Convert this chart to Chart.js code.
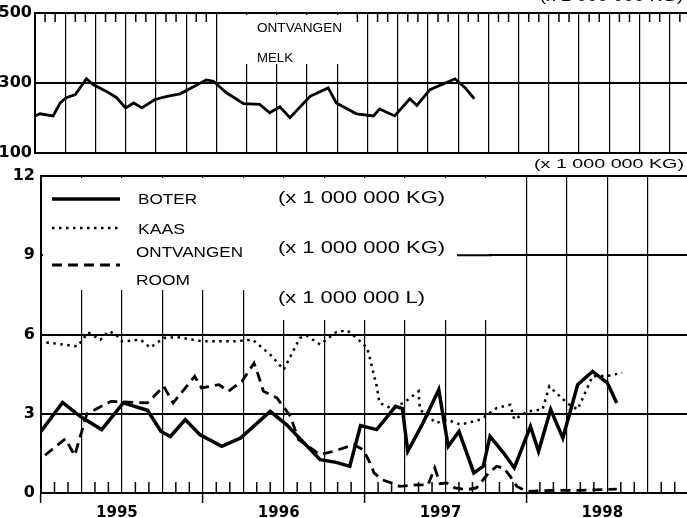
<!DOCTYPE html>
<html>
<head>
<meta charset="utf-8">
<script src="https://cdn.jsdelivr.net/npm/chart.js@4"></script>
<style>
  body { margin: 0; background: #fff; width: 687px; height: 518px; overflow: hidden; position: relative; }
  #melkBox { position: absolute; left: 0; top: 0; width: 700px; height: 175px; }
  #zuivelBox { position: absolute; left: 0; top: 155px; width: 700px; height: 363px; }
</style>
</head>
<body>
<div id="melkBox"><canvas id="melkChart"></canvas></div>
<div id="zuivelBox"><canvas id="zuivelChart"></canvas></div>
<script>
// months counted from january 1995 (0 = start of 1995)
const melkMonths = [0, 0.5, 1.8, 2.5, 3.1, 4.0, 5.1, 5.8, 7.1, 8.1, 9.0, 9.8, 10.6, 11.9, 13.1, 14.4, 15.5, 17.0, 17.7, 19.0,
  20.7, 22.3, 23.3, 24.3, 25.3, 27.3, 29.1, 29.9, 31.9, 33.6, 34.2, 35.7, 37.2, 37.9, 39.2, 41.7, 42.7, 43.6];
const melkValues = [206, 212, 206, 243, 258, 267, 312, 295, 276, 258, 229, 243, 229, 253, 262, 269, 286, 309, 305, 272,
  241, 239, 215, 232, 201, 262, 286, 243, 212, 206, 226, 206, 255, 236, 281, 312, 286, 255];

const boterMonths = [0, 1.6, 2.9, 4.5, 6.1, 7.9, 8.9, 9.6, 10.7, 11.8, 13.4, 14.8, 17.0, 18.2, 20.7, 21.9, 22.9, 23.7,
  24.9, 26.3, 26.8, 27.2, 28.2, 29.5, 30.2, 31.0, 32.1, 32.8, 33.3, 34.3, 35.1, 36.3, 36.9, 37.8, 38.7, 39.8, 40.9, 42.0, 42.7];
const boterValues = [2.33, 3.43, 2.9, 2.4, 3.41, 3.13, 2.33, 2.14, 2.78, 2.2, 1.77, 2.08, 3.09, 2.59, 1.26, 1.16, 1.01, 2.55,
  2.4, 3.28, 3.2, 1.58, 2.52, 3.91, 1.77, 2.33, 0.76, 1.01, 2.14, 1.52, 0.95, 2.52, 1.58, 3.16, 2.08, 4.1, 4.6, 4.17, 3.41];

const kaasMonths = [0.4, 2.7, 3.5, 4.4, 5.0, 5.5, 6.0, 7.4, 8.1, 9.1, 10.1, 12.0, 14.3, 15.7, 17.0, 18.0, 19.2, 19.7, 20.7,
  21.9, 22.7, 23.4, 24.2, 24.9, 25.1, 25.9, 26.9, 28.0, 28.1, 29.3, 30.1, 31.1, 32.6, 33.8, 34.8, 35.1, 36.1, 37.2, 37.7,
  39.0, 39.8, 40.9, 42.1, 43.1];
const kaasValues = [5.7, 5.55, 6.08, 5.8, 6.12, 6.03, 5.74, 5.8, 5.5, 5.87, 5.9, 5.74, 5.74, 5.8, 5.24, 4.67, 5.87, 5.96, 5.62,
  6.09, 6.16, 5.87, 5.49, 4.04, 3.41, 3.22, 3.41, 3.85, 3.16, 2.65, 2.78, 2.59, 2.78, 3.22, 3.34, 2.78, 3.09, 3.16, 4.04,
  3.41, 3.16, 4.42, 4.44, 4.55];

const roomMonths = [0.3, 1.8, 2.5, 3.4, 5.2, 7.9, 9.1, 9.8, 11.4, 11.9, 13.2, 13.9, 14.9, 15.8, 16.1, 16.5, 17.5, 18.5, 19.1,
  20.7, 21.7, 23.2, 23.9, 24.4, 24.7, 25.3, 26.0, 26.6, 27.9, 28.7, 29.2, 29.6, 30.1, 30.7, 31.6, 32.3, 33.2, 33.8, 34.3,
  34.8, 35.3, 36.0, 38.0, 40.0, 42.7];
const roomValues = [1.43, 2.05, 1.42, 3.0, 3.47, 3.41, 4.04, 3.41, 4.42, 3.98, 4.1, 3.85, 4.23, 4.92, 4.48, 3.85, 3.6, 2.9, 2.02,
  1.45, 1.58, 1.83, 1.64, 1.14, 0.76, 0.5, 0.38, 0.25, 0.31, 0.3, 0.95, 0.35, 0.38, 0.19, 0.13, 0.19, 0.76, 1.01, 0.95,
  0.63, 0.25, 0.06, 0.1, 0.1, 0.15];

const yearLabels = ['1995', '1996', '1997', '1998'];
const unitKg = '(x 1 000 000 KG)';
const unitL = '(x 1 000 000 L)';

const TEXT_FONT = '"Liberation Sans", Arial, sans-serif';
const AXIS_FONT = { family: '"DejaVu Sans", sans-serif', size: 16, weight: 'bold' };

function points(months, values) {
  return months.map((m, i) => ({ x: m, y: values[i] }));
}

// text squeezed/stretched to the width it has in the scan
function fitText(ctx, str, x, baseline, width, size) {
  ctx.save();
  ctx.font = size + 'px ' + TEXT_FONT;
  const w = ctx.measureText(str).width;
  ctx.translate(x, baseline);
  ctx.scale(width / w, 1);
  ctx.fillStyle = '#000';
  ctx.textBaseline = 'alphabetic';
  ctx.fillText(str, 0, 0);
  ctx.restore();
}

function monthTicks(chart, fromTop, len, skip) {
  const ctx = chart.ctx, x = chart.scales.x, a = chart.chartArea;
  ctx.save();
  ctx.strokeStyle = '#000';
  ctx.lineWidth = 1.5;
  for (let m = 1; m < x.max; m++) {
    if (m % 3 === 0) continue;
    const px = x.getPixelForValue(m);
    if (skip && px > skip[0] && px < skip[1]) continue;
    ctx.beginPath();
    if (fromTop) { ctx.moveTo(px, a.top); ctx.lineTo(px, a.top + len); }
    else { ctx.moveTo(px, a.bottom); ctx.lineTo(px, a.bottom - len); }
    ctx.stroke();
  }
  ctx.restore();
}

const melkDecor = {
  id: 'melkDecor',
  beforeDatasetsDraw(chart) {
    const ctx = chart.ctx;
    monthTicks(chart, true, 9, [222, 352]);
    ctx.save();
    ctx.fillStyle = '#fff';
    ctx.fillRect(225, chart.chartArea.top + 2, 125, 49);
    ctx.restore();
    fitText(ctx, 'ONTVANGEN', 257, 32, 85, 13);
    fitText(ctx, 'MELK', 257, 62, 36, 13);
    fitText(ctx, unitKg, 540, 1, 143, 13);
  }
};

const zuivelDecor = {
  id: 'zuivelDecor',
  beforeDatasetsDraw(chart) {
    const ctx = chart.ctx, y = chart.scales.y;
    const off = 155; // canvas top on the page
    monthTicks(chart, false, 11);
    ctx.save();
    ctx.fillStyle = '#fff';
    ctx.fillRect(43, 178 - off, 446, 112);
    ctx.fillRect(262, 290 - off, 227, 30);
    ctx.strokeStyle = '#000';
    ctx.lineWidth = 2;
    ctx.beginPath();
    ctx.moveTo(457, y.getPixelForValue(9));
    ctx.lineTo(492, y.getPixelForValue(9));
    ctx.stroke();

    // legend samples, same styles as the datasets
    const samples = [[0, 199], [1, 228], [2, 265]];
    samples.forEach(([i, py]) => {
      const ds = chart.data.datasets[i];
      ctx.beginPath();
      ctx.lineWidth = ds.borderWidth;
      ctx.setLineDash(ds.borderDash || []);
      ctx.moveTo(52, py - off);
      ctx.lineTo(120, py - off);
      ctx.stroke();
    });
    ctx.restore();

    fitText(ctx, unitKg, 534, 168 - off, 150, 12);
    fitText(ctx, 'BOTER', 138, 204 - off, 59, 15);
    fitText(ctx, 'KAAS', 138, 234 - off, 47, 15);
    fitText(ctx, 'ONTVANGEN', 136, 257 - off, 107, 15);
    fitText(ctx, 'ROOM', 136, 285 - off, 54, 15);
    fitText(ctx, unitKg, 278, 203 - off, 167, 16);
    fitText(ctx, unitKg, 278, 253 - off, 167, 16);
    fitText(ctx, unitL, 278, 303 - off, 147, 16);
  }
};

new Chart(document.getElementById('melkChart'), {
  type: 'line',
  data: {
    datasets: [{
      label: 'Ontvangen melk',
      data: points(melkMonths, melkValues),
      borderColor: '#000',
      borderWidth: 2.8,
      pointRadius: 0,
      tension: 0
    }]
  },
  options: {
    responsive: true,
    maintainAspectRatio: false,
    animation: false,
    layout: { padding: { top: 13, left: 0, right: 0, bottom: 0 } },
    plugins: { legend: { display: false }, tooltip: { enabled: false } },
    scales: {
      x: {
        type: 'linear', min: 0, max: 66,
        afterFit: s => { s.height = 22; },
        ticks: { display: false, stepSize: 3 },
        grid: { color: '#000', lineWidth: 1.2, drawTicks: false },
        border: { color: '#000', width: 2 }
      },
      y: {
        min: 100, max: 500,
        afterFit: s => { s.width = 35; },
        ticks: { stepSize: 200, color: '#000', font: AXIS_FONT, padding: 3 },
        grid: { color: '#000', lineWidth: 2, drawTicks: false },
        border: { color: '#000', width: 2 }
      }
    }
  },
  plugins: [melkDecor]
});

new Chart(document.getElementById('zuivelChart'), {
  type: 'line',
  data: {
    datasets: [
      {
        label: 'BOTER',
        data: points(boterMonths, boterValues),
        borderColor: '#000', borderWidth: 3.5,
        pointRadius: 0, tension: 0
      },
      {
        label: 'KAAS',
        data: points(kaasMonths, kaasValues),
        borderColor: '#000', borderWidth: 2.5, borderDash: [2.5, 4.5],
        pointRadius: 0, tension: 0
      },
      {
        label: 'ONTVANGEN ROOM',
        data: points(roomMonths, roomValues),
        borderColor: '#000', borderWidth: 2.8, borderDash: [10, 6],
        pointRadius: 0, tension: 0
      }
    ]
  },
  options: {
    responsive: true,
    maintainAspectRatio: false,
    animation: false,
    layout: { padding: { top: 21, left: 0, right: 0, bottom: 0 } },
    plugins: { legend: { display: false }, tooltip: { enabled: false } },
    scales: {
      x: {
        type: 'linear', min: 0, max: 48.8,
        afterFit: s => { s.height = 25; },
        ticks: {
          stepSize: 3, autoSkip: false, maxRotation: 0, padding: 1, labelOffset: -5,
          color: '#000',
          font: { family: '"DejaVu Sans", sans-serif', size: 15, weight: 'bold' },
          callback: v => (v % 12 === 6 ? yearLabels[(v - 6) / 12] || '' : '')
        },
        grid: {
          color: '#000', lineWidth: 1.2, tickLength: 10, tickWidth: 1.5,
          tickColor: c => (c.tick && c.tick.value % 12 === 0 ? '#000' : 'rgba(0,0,0,0)')
        },
        border: { color: '#000', width: 2 }
      },
      y: {
        min: 0, max: 12,
        afterFit: s => { s.width = 41; },
        ticks: { stepSize: 3, color: '#000', font: AXIS_FONT, padding: 6 },
        grid: { color: '#000', lineWidth: 2, drawTicks: false },
        border: { color: '#000', width: 2 }
      }
    }
  },
  plugins: [zuivelDecor]
});
</script>
</body>
</html>
